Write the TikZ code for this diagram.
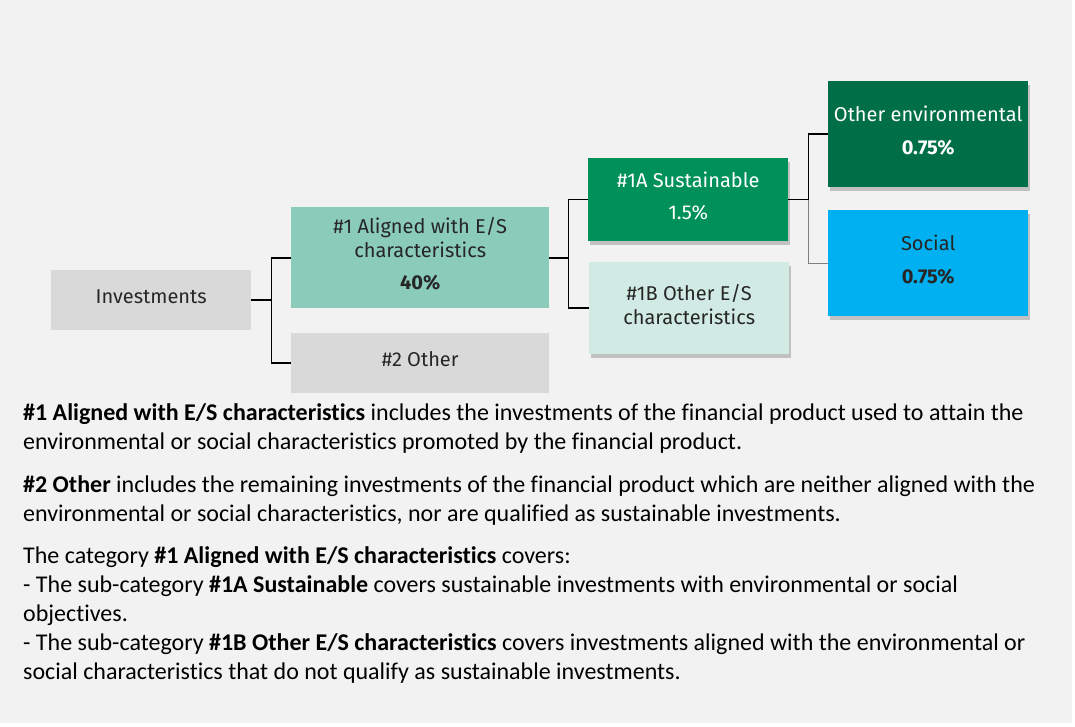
\documentclass[tikz,border=0pt]{standalone}
\usepackage{fontspec}
\setmainfont{Carlito}[Ligatures=NoCommon]
\newfontfamily\boxfont{Fira Sans}
\usetikzlibrary{shadows,calc}
\definecolor{bgray}{HTML}{F2F2F2}
\definecolor{lgray}{HTML}{D9D9D9}
\definecolor{mint}{HTML}{8BCBB9}
\definecolor{pale}{HTML}{D1EBE4}
\definecolor{sgreen}{HTML}{00915A}
\definecolor{dgreen}{HTML}{006E46}
\definecolor{sky}{HTML}{00B0F0}
\definecolor{ink}{HTML}{262626}
\tikzset{
  cat/.style={anchor=north west, inner sep=0pt, align=center, text=ink, text depth=8pt,
    font=\boxfont\fontsize{20}{24}\selectfont},
  shad/.style={drop shadow={shadow xshift=2pt, shadow yshift=-4pt, opacity=.2, fill=black}},
  link/.style={line width=1.6pt, black},
  txt/.style={anchor=base west, inner sep=0pt, font=\fontsize{24}{29}\selectfont, text=black}
}
\begin{document}
\begin{tikzpicture}[x=1pt,y=-1pt]
    \useasboundingbox (0,0) rectangle (1075,727);
    \fill[white] (0,0) rectangle (1075,727);
    \fill[bgray] (0,0) rectangle (1072,723);

    % boxes
    \node[cat, fill=lgray, minimum width=200pt, minimum height=60pt] (inv) at (51,270) {Investments};
    \node[cat, fill=mint, minimum width=258pt, minimum height=101pt] (alig) at (291,207)
      {\#1 Aligned with E/S\\characteristics\\[8pt]\textbf{40\%}};
    \node[cat, fill=lgray, minimum width=258pt, minimum height=60pt] (oth) at (291,333) {\#2 Other};
    \node[cat, shad, fill=sgreen, text=white, minimum width=200pt, minimum height=83pt] (sust) at (588,158)
      {\#1A Sustainable\\[8pt]1.5\%};
    \node[cat, shad, fill=pale, minimum width=200pt, minimum height=92pt] (oes) at (589,262)
      {\#1B Other E/S\\characteristics};
    \node[cat, shad, fill=dgreen, text=white, minimum width=200pt, minimum height=106pt] (env) at (828,81)
      {Other environmental\\[9pt]\textbf{0.75\%}};
    \node[cat, shad, fill=sky, minimum width=200pt, minimum height=106pt] (soc) at (828,210)
      {Social\\[9pt]\textbf{0.75\%}};

    % connectors
    \coordinate (j1) at ($(inv.east)+(20,0)$);
    \draw[link] (inv.east) -- (j1);
    \draw[link] (alig.west) -| (j1) |- (oth.west);
    \coordinate (j2) at ($(alig.east)+(19,0)$);
    \draw[link] (alig.east) -- (j2);
    \draw[link] (sust.west) -| (j2) |- (oes.west);
    \coordinate (j3) at ($(sust.east)+(20,0)$);
    \draw[link] (sust.east) -- (j3) |- (env.west);
    \draw[gray, line width=.8pt] (j3) |- (soc.west);

    % notes
    \node[txt] (n1) at (23,420) {\textbf{\#1 Aligned with E/S characteristics} includes the investments of the financial product used to attain the};
    \node[txt] (n2) at (23,449) {environmental or social characteristics promoted by the financial product.};
    \node[txt] (n3) at (23,492) {\textbf{\#2 Other} includes the remaining investments of the financial product which are neither aligned with the};
    \node[txt] (n4) at (23,521) {environmental or social characteristics, nor are qualified as sustainable investments.};
    \node[txt] (n5) at (23,563) {The category \textbf{\#1 Aligned with E/S characteristics} covers:};
    \node[txt] (n6) at (23,592) {- The sub-category \textbf{\#1A Sustainable} covers sustainable investments with environmental or social};
    \node[txt] (n7) at (23,621) {objectives.};
    \node[txt] (n8) at (23,650) {- The sub-category \textbf{\#1B Other E/S characteristics} covers investments aligned with the environmental or};
    \node[txt] (n9) at (23,679) {social characteristics that do not qualify as sustainable investments.};
\end{tikzpicture}
\end{document}
